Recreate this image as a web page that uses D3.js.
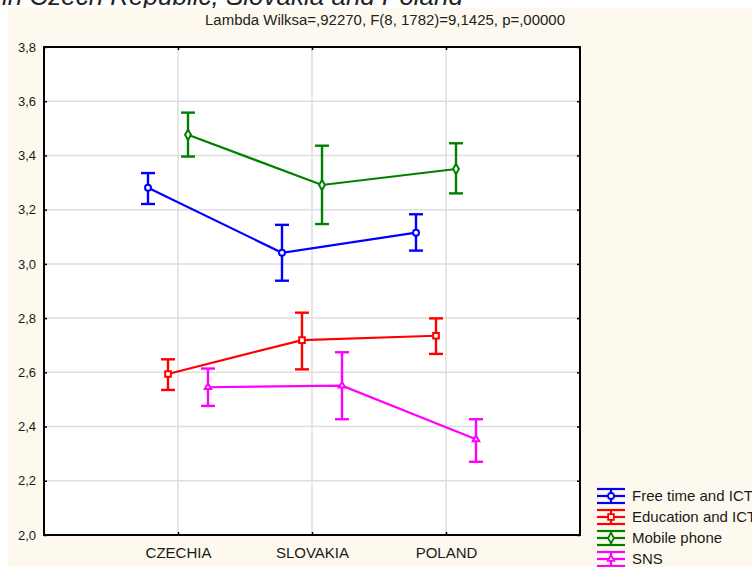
<!DOCTYPE html>
<html>
<head>
<meta charset="utf-8">
<script src="https://cdn.jsdelivr.net/npm/d3@7"></script>
<style>
    body { margin: 0; background: #ffffff; }
    svg { display: block; font-family: "Liberation Sans", Arial, sans-serif; }
</style>
</head>
<body>
<svg id="chart" width="752" height="567"></svg>
<script>
// categories and series
var countries = ["CZECHIA", "SLOVAKIA", "POLAND"];
var seriesNames = ["Free time and ICT", "Education and ICT", "Mobile phone", "SNS"];
var seriesColors = ["#0000ff", "#ff0000", "#008000", "#ff00ff"];
var seriesMarkers = ["circle", "square", "diamond", "triangle"];

// means and 95% confidence bounds, per series, per country
var means = [
    [3.281, 3.041, 3.115],
    [2.594, 2.719, 2.735],
    [3.476, 3.291, 3.350],
    [2.545, 2.551, 2.353]
];
var lower = [
    [3.221, 2.938, 3.049],
    [2.535, 2.611, 2.668],
    [3.396, 3.147, 3.260],
    [2.476, 2.427, 2.270]
];
var upper = [
    [3.335, 3.144, 3.183],
    [2.648, 2.820, 2.799],
    [3.558, 3.436, 3.445],
    [2.614, 2.674, 2.427]
];

var yTicks = [2.0, 2.2, 2.4, 2.6, 2.8, 3.0, 3.2, 3.4, 3.6, 3.8];

var titleText = "Lambda Wilksa=,92270, F(8, 1782)=9,1425, p=,00000";
var headerText = "in Czech Republic, Slovakia and Poland";

var svg = d3.select("#chart");

var plot = {left: 44, top: 47, right: 580, bottom: 535};

var x = d3.scalePoint()
    .domain(countries)
    .range([plot.left, plot.right])
    .padding(1);

var offset = d3.scaleBand()
    .domain(seriesNames)
    .range([-40, 40]);

var y = d3.scaleLinear()
    .domain([2.0, 3.8])
    .range([plot.bottom, plot.top]);

var fmt = function (d) { return d3.format(".1f")(d).replace(".", ","); };

// cut-off caption of the figure above the chart
svg.append("text")
    .attr("x", 463).attr("y", 5)
    .attr("text-anchor", "end")
    .style("font-style", "italic")
    .style("font-size", "26px")
    .style("fill", "#222")
    .text(headerText);

// panel background
svg.append("rect")
    .attr("x", 8).attr("y", 8)
    .attr("width", 752).attr("height", 567)
    .style("fill", "#fdf9ee");

svg.append("text")
    .attr("x", 385).attr("y", 25)
    .attr("text-anchor", "middle")
    .attr("textLength", 360)
    .attr("lengthAdjust", "spacingAndGlyphs")
    .style("font-size", "14px")
    .style("fill", "#222")
    .text(titleText);

svg.append("rect")
    .attr("x", plot.left).attr("y", plot.top)
    .attr("width", plot.right - plot.left).attr("height", plot.bottom - plot.top)
    .style("fill", "#ffffff");

// grid
var grid = svg.append("g");

grid.selectAll("line.h")
    .data(yTicks.slice(1, -1))
    .enter().append("line")
    .attr("class", "h")
    .attr("x1", plot.left).attr("x2", plot.right)
    .attr("y1", function (d) { return y(d); })
    .attr("y2", function (d) { return y(d); })
    .style("stroke", "#dedede").style("stroke-width", 1.5);

grid.selectAll("line.v")
    .data(countries)
    .enter().append("line")
    .attr("class", "v")
    .attr("y1", plot.top).attr("y2", plot.bottom)
    .attr("x1", function (d) { return x(d); })
    .attr("x2", function (d) { return x(d); })
    .style("stroke", "#dedede").style("stroke-width", 1.5);

// axes
var axisLeft = svg.append("g")
    .attr("transform", "translate(" + plot.left + ",0)")
    .call(d3.axisLeft(y).tickValues(yTicks).tickFormat(fmt).tickSizeInner(-3).tickSizeOuter(0).tickPadding(8));

var axisRight = svg.append("g")
    .attr("transform", "translate(" + plot.right + ",0)")
    .call(d3.axisRight(y).tickValues(yTicks).tickFormat("").tickSizeInner(-3).tickSizeOuter(0));

var axisBottom = svg.append("g")
    .attr("transform", "translate(0," + plot.bottom + ")")
    .call(d3.axisBottom(x).tickSizeInner(-3).tickSizeOuter(0).tickPadding(12));

var axisTop = svg.append("g")
    .attr("transform", "translate(0," + plot.top + ")")
    .call(d3.axisTop(x).tickFormat("").tickSizeInner(-3).tickSizeOuter(0));

[axisLeft, axisRight, axisBottom, axisTop].forEach(function (g)
{
    g.select(".domain").remove();
    g.selectAll(".tick line").style("stroke", "#000").style("stroke-width", 1.5);
    g.selectAll(".tick text").style("fill", "#1a1a1a").style("font-family", "Liberation Sans, Arial, sans-serif");
});

axisLeft.selectAll(".tick text").style("font-size", "13px");
axisBottom.selectAll(".tick text").style("font-size", "15px");

svg.append("rect")
    .attr("x", plot.left).attr("y", plot.top)
    .attr("width", plot.right - plot.left).attr("height", plot.bottom - plot.top)
    .style("fill", "none").style("stroke", "#000").style("stroke-width", 2);

// marker shapes
function markerPath(type)
{
    if (type === "circle") return d3.symbol().type(d3.symbolCircle).size(28)();
    if (type === "square") return d3.symbol().type(d3.symbolSquare).size(32)();
    if (type === "diamond") return d3.symbol().type(d3.symbolDiamond).size(30)();
    return d3.symbol().type(d3.symbolTriangle).size(18)();
}

var CAP = 7;

var seriesData = seriesNames.map(function (name, s)
{
    return {
        name: name,
        color: seriesColors[s],
        marker: seriesMarkers[s],
        points: countries.map(function (c, i)
        {
            return {country: c, mean: means[s][i], lo: lower[s][i], hi: upper[s][i]};
        })
    };
});

var groups = svg.selectAll("g.series")
    .data(seriesData)
    .enter().append("g")
    .attr("class", "series");

groups.each(function (sd)
{
    var g = d3.select(this);
    var px = function (d) { return x(d.country) + offset(sd.name) + offset.bandwidth() / 2; };

    g.append("path")
        .attr("d", d3.line().x(px).y(function (d) { return y(d.mean); })(sd.points))
        .style("fill", "none")
        .style("stroke", sd.color)
        .style("stroke-width", 2.2);

    var bars = g.selectAll("g.bar")
        .data(sd.points)
        .enter().append("g")
        .attr("class", "bar");

    bars.append("line")
        .attr("x1", px).attr("x2", px)
        .attr("y1", function (d) { return y(d.lo); })
        .attr("y2", function (d) { return y(d.hi); });

    bars.append("line")
        .attr("x1", function (d) { return px(d) - CAP; })
        .attr("x2", function (d) { return px(d) + CAP; })
        .attr("y1", function (d) { return y(d.hi); })
        .attr("y2", function (d) { return y(d.hi); });

    bars.append("line")
        .attr("x1", function (d) { return px(d) - CAP; })
        .attr("x2", function (d) { return px(d) + CAP; })
        .attr("y1", function (d) { return y(d.lo); })
        .attr("y2", function (d) { return y(d.lo); });

    bars.selectAll("line")
        .style("stroke", sd.color)
        .style("stroke-width", 2.4);

    bars.append("path")
        .attr("transform", function (d) { return "translate(" + px(d) + "," + y(d.mean) + ")"; })
        .attr("d", markerPath(sd.marker))
        .style("fill", "#ffffff")
        .style("stroke", sd.color)
        .style("stroke-width", 2);
});

// legend
var legend = svg.selectAll("g.legend")
    .data(seriesData)
    .enter().append("g")
    .attr("class", "legend")
    .attr("transform", function (d, i) { return "translate(611," + (496 + i * 21) + ")"; });

legend.each(function (sd)
{
    var g = d3.select(this);
    [-7, 0, 7].forEach(function (dy)
    {
        g.append("line")
            .attr("x1", -14).attr("x2", 14)
            .attr("y1", dy).attr("y2", dy)
            .style("stroke", sd.color).style("stroke-width", 2.2);
    });
    g.append("line")
        .attr("x1", 0).attr("x2", 0)
        .attr("y1", -7).attr("y2", 7)
        .style("stroke", sd.color).style("stroke-width", 2.2);
    g.append("path")
        .attr("d", markerPath(sd.marker))
        .style("fill", "#ffffff")
        .style("stroke", sd.color)
        .style("stroke-width", 1.8);
    g.append("text")
        .attr("x", 21).attr("y", 5)
        .style("font-size", "15px")
        .style("fill", "#1a1a1a")
        .text(sd.name);
});
</script>
</body>
</html>
